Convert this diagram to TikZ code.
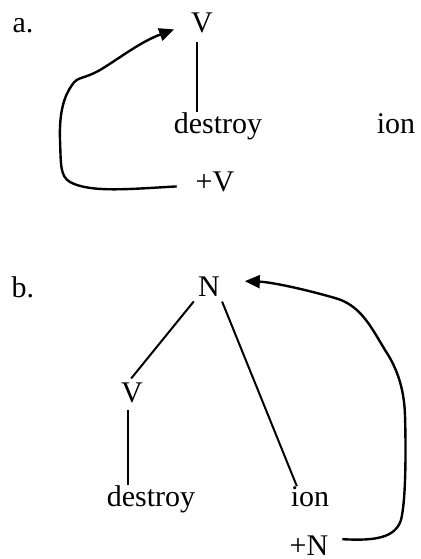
\documentclass[tikz,border=0pt]{standalone}
\usepackage{fontspec}
\setmainfont{Liberation Serif}
\usetikzlibrary{arrows.meta}
\tikzset{
	word/.style={inner sep=0pt, outer sep=0pt, anchor=base, font=\fontsize{15}{18}\selectfont},
	branch/.style={line width=1pt, shorten <=4pt},
	move/.style={line width=1.2pt, -{Triangle[length=7.5pt, width=6.5pt]}}
}

\begin{document}
\begin{tikzpicture}[x=0.5pt, y=-0.5pt]
	\useasboundingbox (0, 0) rectangle (421, 559);
	% Tree a:
	\node[word] (la) at (23, 32){a.};
	\node[word] (Va) at (202, 32){V};
	\node[word] (destroyA) at (218, 133){destroy};
	\node[word] (ionA) at (396, 133){ion};
	\node[word] (plusV) at (215, 191){+V};
	\draw[branch, shorten <=5pt] ([xshift=-2.5pt]Va.south) -- ([xshift=-2.5pt]Va.south |- destroyA.north);
	\draw[move] ([shift={(-9.5pt,-2.5pt)}]plusV.west) .. controls (130, 189) and (90, 193) .. (70, 182) .. controls (60, 176) and (61, 165) .. (60, 140) .. controls (59, 110) and (65, 95) .. (72, 85) .. controls (78, 76) and (82, 80) .. (100, 70) .. controls (120, 58) and (140, 42) .. ([shift={(-8.5pt,-3.5pt)}]Va.west);
	% Tree b:
	\node[word] (lb) at (23, 297){b.};
	\node[word] (N) at (209, 296){N};
	\node[word] (Vb) at (132, 402){V};
	\node[word] (destroyB) at (151, 506){destroy};
	\node[word] (ionB) at (310, 506){ion};
	\node[word] (plusN) at (309, 555){+N};
	\draw[branch, shorten <=3.5pt, shorten >=2.5pt] (N.south west) -- ([xshift=-2pt]Vb.north);
	\draw[branch, shorten <=3pt] (N.south east) -- ([xshift=3pt]ionB.north west);
	\draw[branch] ([xshift=-2pt]Vb.south) -- ([xshift=-2pt]Vb.south |- destroyB.north);
	\draw[move] ([shift={(7pt,3pt)}]plusN.east) .. controls (375, 541) and (395, 538) .. (401, 520) .. controls (406, 500) and (406, 450) .. (405, 415) .. controls (404, 385) and (395, 365) .. (385, 350) .. controls (370, 325) and (360, 305) .. (335, 298) .. controls (300, 288) and (270, 282) .. ([shift={(12.5pt,2.5pt)}]N.east);
\end{tikzpicture}
\end{document}
